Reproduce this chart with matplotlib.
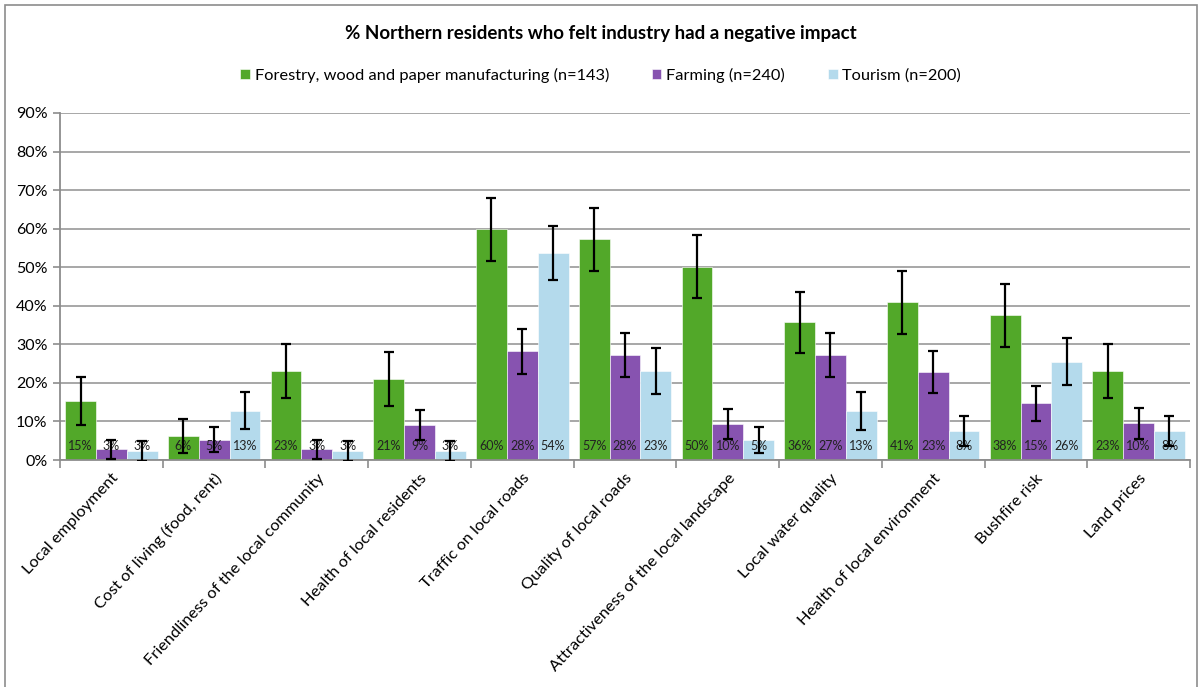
import matplotlib
matplotlib.use("Agg")
import matplotlib.pyplot as plt
import numpy as np
from matplotlib.patches import Rectangle

plt.rcParams['font.family'] = ['Lato', 'DejaVu Sans']

categories = ["Local employment", "Cost of living (food, rent)", "Friendliness of the local community",
              "Health of local residents", "Traffic on local roads", "Quality of local roads",
              "Attractiveness of the local landscape", "Local water quality", "Health of local environment",
              "Bushfire risk", "Land prices"]
series_names = ["Forestry, wood and paper manufacturing (n=143)", "Farming (n=240)", "Tourism (n=200)"]
forestry = [15.4, 6.2, 23.1, 21.1, 59.8, 57.2, 50.1, 35.7, 40.9, 37.5, 23.0]
farming = [2.8, 5.3, 2.8, 9.1, 28.2, 27.3, 9.4, 27.2, 22.8, 14.7, 9.5]
tourism = [2.4, 12.8, 2.4, 2.4, 53.7, 23.0, 5.2, 12.8, 7.6, 25.5, 7.6]
forestry_err = [6.2, 4.5, 7.1, 7.0, 8.2, 8.2, 8.2, 8.0, 8.2, 8.1, 7.0]
farming_err = [2.5, 3.2, 2.5, 3.9, 5.8, 5.7, 3.9, 5.8, 5.4, 4.6, 4.1]
tourism_err = [2.6, 4.8, 2.6, 2.6, 7.0, 6.0, 3.3, 4.9, 3.9, 6.1, 3.9]
labels_forestry = ["15%", "6%", "23%", "21%", "60%", "57%", "50%", "36%", "41%", "38%", "23%"]
labels_farming = ["3%", "5%", "3%", "9%", "28%", "28%", "10%", "27%", "23%", "15%", "10%"]
labels_tourism = ["3%", "13%", "3%", "3%", "54%", "23%", "5%", "13%", "8%", "26%", "8%"]
yticks = [0, 10, 20, 30, 40, 50, 60, 70, 80, 90]

colors = ["#52A829", "#8753B0", "#B4DAEC"]

fig = plt.figure(figsize=(12.01, 6.87), dpi=100)
fig.patches.append(Rectangle((5/1201, -0.01), 1192/1201, 1.0 - 5/687 + 0.01, transform=fig.transFigure,
                             fill=False, edgecolor="#8c8c8c", linewidth=1.2))
ax = fig.add_axes([60/1201, 1 - 460/687, 1130/1201, 347/687])

x = np.arange(len(categories))
w = 0.3
data = [forestry, farming, tourism]
errs = [forestry_err, farming_err, tourism_err]
labs = [labels_forestry, labels_farming, labels_tourism]
for i in range(3):
    pos = x + (i - 1) * w
    ax.bar(pos, data[i], width=w, color=colors[i], edgecolor="white", linewidth=0.4,
           label=series_names[i], zorder=2)
    ax.errorbar(pos, data[i], yerr=errs[i], fmt="none", ecolor="black", elinewidth=1.6,
                capsize=3.3, capthick=1.6, zorder=4)
    for p, t in zip(pos, labs[i]):
        ax.text(p, 3.7, t, ha="center", va="center", fontsize=9, color="#222222", zorder=3)

ax.set_ylim(0, 90)
ax.set_xlim(-0.5, len(categories) - 0.5)
ax.set_yticks(yticks)
ax.set_yticklabels([f"{v}%" for v in yticks], fontsize=11.5)
ax.yaxis.grid(True, color="#a0a0a0", linewidth=1.3, zorder=0)
ax.set_axisbelow(True)
ax.set_xticks(np.arange(len(categories) + 1) - 0.5)
ax.set_xticklabels([])
ax.tick_params(axis="x", length=6, color="#8c8c8c", width=1.2)
ax.tick_params(axis="y", length=5, color="#8c8c8c", width=1.2, pad=4)
ax.set_xticks(x, minor=True)
ax.set_xticklabels(categories, minor=True, rotation=47, ha="right", va="top",
                   rotation_mode="anchor", fontsize=11.8)
ax.tick_params(axis="x", which="minor", length=0, pad=8)
for s in ["top", "right"]:
    ax.spines[s].set_visible(False)
for s in ["left", "bottom"]:
    ax.spines[s].set_color("#8c8c8c")
    ax.spines[s].set_linewidth(1.3)

fig.text(0.5, 1 - 33/687, "% Northern residents who felt industry had a negative impact",
         ha="center", va="center", fontsize=13.5, fontweight="bold")
fig.legend(loc="center", bbox_to_anchor=(0.5, 1 - 75/687), ncol=3, frameon=False, fontsize=11.8,
           handlelength=0.6, handleheight=0.6, handletextpad=0.3, columnspacing=2.6)

fig.savefig("out.png", dpi=100)
